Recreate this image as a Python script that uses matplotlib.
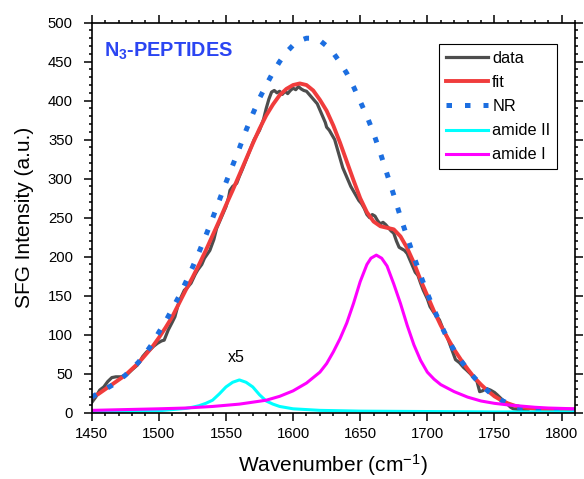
import matplotlib
matplotlib.use("Agg")
import matplotlib.pyplot as plt
from matplotlib.ticker import MultipleLocator

plt.rcParams['font.family'] = ['Liberation Sans', 'DejaVu Sans']
plt.rcParams['mathtext.fontset'] = 'custom'
plt.rcParams['mathtext.rm'] = 'Liberation Sans'
plt.rcParams['mathtext.it'] = 'Liberation Sans'
plt.rcParams['mathtext.bf'] = 'Liberation Sans:bold'

wn_data = [1450, 1453, 1456, 1459, 1462, 1465, 1468, 1472, 1475, 1477, 1480, 1484, 1486, 1488,
           1491, 1493, 1496, 1499, 1502, 1504, 1507, 1510, 1512, 1514, 1516, 1519, 1521, 1524,
           1527, 1529, 1532, 1534, 1536, 1538, 1541, 1543, 1546, 1548, 1550, 1552, 1553, 1555,
           1558, 1560, 1562, 1565, 1568, 1571, 1573, 1575, 1578, 1580, 1582, 1584, 1586, 1588,
           1590, 1592, 1594, 1596, 1598, 1600, 1602, 1604, 1606, 1608, 1610, 1612, 1614, 1616,
           1618, 1620, 1622, 1624, 1625, 1627, 1629, 1631, 1633, 1635, 1637, 1639, 1641, 1643,
           1645, 1647, 1649, 1651, 1653, 1655, 1657, 1659, 1661, 1663, 1665, 1667, 1669, 1671,
           1673, 1675, 1677, 1679, 1681, 1683, 1685, 1687, 1689, 1691, 1693, 1695, 1697, 1700,
           1702, 1705, 1709, 1712, 1715, 1718, 1721, 1724, 1727, 1729, 1732, 1735, 1737, 1739,
           1741, 1744, 1747, 1750, 1752, 1755, 1759, 1762, 1764, 1768, 1772, 1775]
sfg_data = [13, 20, 29, 33, 40, 45, 46, 46, 48, 50, 55, 61, 66, 72,
            78, 80, 85, 89, 92, 93, 106, 116, 123, 136, 146, 157, 160, 166,
            177, 183, 190, 198, 203, 208, 222, 236, 248, 256, 264, 276, 285, 290,
            294, 303, 311, 324, 337, 350, 356, 362, 376, 390, 402, 411, 413, 410,
            412, 408, 412, 409, 413, 416, 414, 418, 415, 413, 412, 408, 404, 400,
            396, 388, 380, 372, 366, 362, 356, 350, 338, 326, 314, 306, 298, 290,
            284, 278, 272, 268, 262, 254, 250, 254, 252, 246, 242, 244, 241, 237,
            233, 230, 220, 212, 210, 208, 204, 196, 188, 180, 176, 166, 157, 146,
            136, 128, 119, 106, 96, 82, 68, 64, 58, 55, 50, 44, 40, 27,
            28, 31, 29, 26, 23, 18, 12, 7, 5, 4, 3.5, 3]

# fit and non-resonant background, every 5 cm-1
wn_fit = [1450, 1455, 1460, 1465, 1470, 1475, 1480, 1485, 1490, 1495, 1500, 1505, 1510, 1515,
          1520, 1525, 1530, 1535, 1540, 1545, 1550, 1555, 1560, 1565, 1570, 1575, 1580, 1585,
          1590, 1595, 1600, 1605, 1610, 1615, 1620, 1625, 1630, 1635, 1640, 1645, 1650, 1655,
          1660, 1665, 1670, 1675, 1680, 1685, 1690, 1695, 1700, 1705, 1710, 1715, 1720, 1725,
          1730, 1735, 1740, 1745, 1750, 1755, 1760, 1765, 1770, 1775, 1780, 1790, 1800, 1810]
fit = [19, 24, 30, 36, 42, 48, 56, 64, 74, 84, 96, 109, 123, 140,
       157, 173, 190, 208, 227, 246, 266, 285, 305, 325, 345, 364, 381, 395,
       407, 415, 420, 422, 420, 413, 401, 387, 368, 346, 322, 298, 275, 257,
       245, 239, 237, 235, 226, 211, 192, 170, 150, 130, 112, 96, 81, 68,
       56, 45, 36, 28, 21, 16, 12, 9, 7, 6, 5, 4.5, 4, 4]
nr = [20, 25, 30, 35, 41, 48, 56, 65, 76, 88, 103, 117, 133, 149,
      167, 186, 206, 227, 249, 272, 295, 317, 339, 362, 383, 403, 420, 436,
      450, 462, 471, 477, 480, 480, 477, 470, 461, 449, 435, 418, 399, 380,
      358, 333, 306, 279, 251, 225, 200, 176, 153, 132, 113, 95, 80, 67,
      55, 45, 36, 28, 21, 16, 12, 8, 6, 5, 4, 3.5, 3, 3]

# resonant components
wn_a2 = [1450, 1480, 1500, 1510, 1520, 1525, 1530, 1535, 1540, 1545, 1550, 1555, 1560,
         1565, 1570, 1575, 1580, 1585, 1590, 1600, 1620, 1650, 1700, 1750, 1810]
amide2 = [1, 1.5, 2.5, 4, 5.5, 7, 9, 12, 16, 24, 33, 39, 42,
          39, 33, 23, 15, 11, 8, 5, 3, 2, 1.5, 1, 1]

wn_a1 = [1450, 1500, 1520, 1540, 1560, 1580, 1590, 1600, 1610, 1620, 1625, 1630, 1635,
         1640, 1645, 1650, 1655, 1658, 1662, 1666, 1670, 1675, 1680, 1685, 1690, 1695,
         1700, 1705, 1710, 1720, 1730, 1740, 1750, 1760, 1770, 1780, 1790, 1800, 1810]
amide1 = [3, 5, 6, 8, 11, 16, 21, 28, 38, 52, 63, 78, 95,
          115, 140, 168, 190, 198, 202, 198, 188, 165, 140, 112, 87, 67,
          52, 43, 36, 27, 20, 15, 12, 10, 8.5, 7, 6, 5.5, 5]

fig = plt.figure(figsize=(5.84, 4.79), dpi=100)
ax = fig.add_axes([0.157, 0.1384, 0.8276, 0.8144])

ax.plot(wn_data, sfg_data, color='#4d4d4d', lw=2.3, label='data')
ax.plot(wn_fit, fit, color='#f03c3c', lw=2.8, label='fit')
ax.plot(wn_fit, nr, color='#1c6ee0', lw=3.6, linestyle=(0, (1.1, 2.6)), label='NR')
ax.plot(wn_a2, amide2, color='#00ffff', lw=2.2, label='amide II')
ax.plot(wn_a1, amide1, color='#ff00ff', lw=2.2, label='amide I')

ax.text(1557.5, 71, 'x5', ha='center', va='center', fontsize=11.5)
ax.text(1459, 463, r'N$_\mathbf{3}$-PEPTIDES', color='#2b45f2', fontsize=14.3,
        fontweight='bold', ha='left', va='center')

ax.set_xlim(1450, 1810)
ax.set_ylim(0, 500)
ax.xaxis.set_major_locator(MultipleLocator(50))
ax.xaxis.set_minor_locator(MultipleLocator(10))
ax.yaxis.set_major_locator(MultipleLocator(50))
ax.yaxis.set_minor_locator(MultipleLocator(10))
ax.tick_params(which='both', direction='out', top=True, right=True, width=1.1,
               labelsize=10.7)
ax.tick_params(which='major', length=5.5)
ax.tick_params(which='minor', length=2.5)
ax.tick_params(axis='y', which='major', pad=8)
ax.tick_params(axis='x', which='major', pad=5)
for s in ax.spines.values():
    s.set_linewidth(1.2)

ax.set_xlabel('Wavenumber (cm$^{-1}$)', fontsize=15, labelpad=8)
ax.set_ylabel('SFG Intensity (a.u.)', fontsize=15, labelpad=10)

leg = ax.legend(loc='upper right', bbox_to_anchor=(0.963, 0.945), borderaxespad=0,
                fontsize=11.7, handlelength=2.6, labelspacing=0.56, fancybox=False,
                framealpha=1, edgecolor='black', borderpad=0.42, handletextpad=0.25)
leg.get_frame().set_linewidth(0.8)

fig.savefig('out.png', dpi=100)
